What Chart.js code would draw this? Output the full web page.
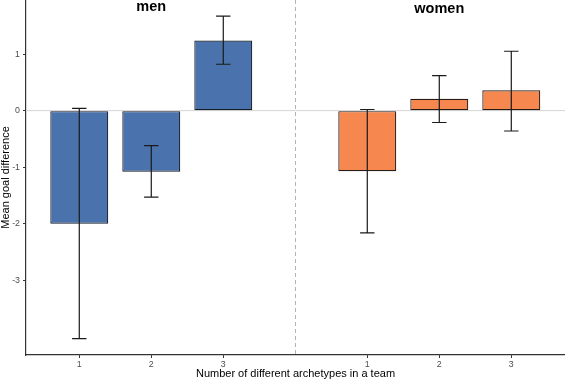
<!DOCTYPE html>
<html>
<head>
<meta charset="utf-8">
<script src="https://cdn.jsdelivr.net/npm/chart.js@4/dist/chart.umd.min.js"></script>
<style>
html,body{margin:0;padding:0;background:#fff;}
#wrap{width:565px;height:382px;position:relative;}
</style>
</head>
<body>
<div id="wrap"><canvas id="c" width="565" height="382"></canvas></div>
<script>
// ---- data ----
const panels = ['men', 'women'];
const categories = ['1', '2', '3'];
const menMeans = [-2.00, -1.08, 1.24];
const menLower = [-4.03, -1.53, 0.82];
const menUpper = [0.04, -0.62, 1.67];
const womenMeans = [-1.07, 0.21, 0.36];
const womenLower = [-2.16, -0.21, -0.36];
const womenUpper = [0.02, 0.62, 1.05];
const yTicks = [-3, -2, -1, 0, 1];
const xTitle = 'Number of different archetypes in a team';
const yTitle = 'Mean goal difference';

// x positions: men at 1..3, women at 5..7 (4 = panel divider)
const menX = categories.map((c, i) => i + 1);
const womenX = categories.map((c, i) => i + 5);
const dividerX = 4;
const tickLabelMap = {};
menX.forEach((x, i) => tickLabelMap[x] = categories[i]);
womenX.forEach((x, i) => tickLabelMap[x] = categories[i]);

const FONT = "'Liberation Sans', Arial, sans-serif";

const facetPlugin = {
  id: 'facet',
  beforeDatasetsDraw(chart) {
    const {ctx, chartArea, scales} = chart;
    const y0 = scales.y.getPixelForValue(0);
    ctx.save();
    ctx.strokeStyle = '#d4d4d4';
    ctx.lineWidth = 1;
    ctx.beginPath();
    ctx.moveTo(chartArea.left, y0);
    ctx.lineTo(chartArea.right, y0);
    ctx.stroke();
    const xd = Math.round(scales.x.getPixelForValue(dividerX)) + 0.5;
    ctx.strokeStyle = '#b3b3b3';
    ctx.setLineDash([4, 3]);
    ctx.beginPath();
    ctx.moveTo(xd, chartArea.top);
    ctx.lineTo(xd, chartArea.bottom);
    ctx.stroke();
    ctx.restore();
  },
  afterDatasetsDraw(chart) {
    const {ctx, scales} = chart;
    const groups = [[menX, menLower, menUpper], [womenX, womenLower, womenUpper]];
    ctx.save();
    ctx.strokeStyle = '#1a1a1a';
    ctx.lineWidth = 1.2;
    groups.forEach(([xs, lo, hi]) => {
      xs.forEach((x, i) => {
        const px = scales.x.getPixelForValue(x);
        const pl = scales.y.getPixelForValue(lo[i]);
        const ph = scales.y.getPixelForValue(hi[i]);
        const half = 7.2;
        ctx.beginPath();
        ctx.moveTo(px, pl); ctx.lineTo(px, ph);
        ctx.moveTo(px - half, pl); ctx.lineTo(px + half, pl);
        ctx.moveTo(px - half, ph); ctx.lineTo(px + half, ph);
        ctx.stroke();
      });
    });
    // facet titles
    ctx.fillStyle = '#000';
    ctx.font = "bold 14.5px " + FONT;
    ctx.textAlign = 'center';
    ctx.textBaseline = 'alphabetic';
    ctx.fillText(panels[0], scales.x.getPixelForValue(menX[1]), 11);
    ctx.fillText(panels[1], scales.x.getPixelForValue(womenX[1]), 13);
    ctx.restore();
  }
};

new Chart(document.getElementById('c'), {
  type: 'bar',
  data: {
    datasets: [
      {
        label: panels[0],
        data: menX.map((x, i) => ({x: x, y: menMeans[i]})),
        backgroundColor: '#4a73ad',
        borderColor: '#141c26',
        borderWidth: 1.2,
        borderSkipped: false
      },
      {
        label: panels[1],
        data: womenX.map((x, i) => ({x: x, y: womenMeans[i]})),
        backgroundColor: '#f5874f',
        borderColor: '#261a14',
        borderWidth: 1.2,
        borderSkipped: false
      }
    ]
  },
  plugins: [facetPlugin],
  options: {
    responsive: false,
    animation: false,
    grouped: false,
    categoryPercentage: 1,
    barPercentage: 0.805,
    layout: {padding: 0},
    plugins: {legend: {display: false}, tooltip: {enabled: false}},
    scales: {
      x: {
        type: 'linear',
        offset: false,
        min: 0.26,
        max: 7.746,
        afterBuildTicks: (s) => { s.ticks = menX.concat(womenX).map(v => ({value: v})); },
        afterFit: (s) => { s.height = 27; s.paddingLeft = 0; s.paddingRight = 0; },
        grid: {display: true, offset: false, drawOnChartArea: false, drawTicks: true, tickLength: 3, color: '#333'},
        border: {display: true, color: '#333', width: 1.2},
        ticks: {
          color: '#4d4d4d',
          font: {family: FONT, size: 8.8},
          padding: 1,
          maxRotation: 0,
          autoSkip: false,
          callback: (v) => tickLabelMap[v] || ''
        },
        title: {
          display: true,
          text: xTitle,
          color: '#000',
          font: {family: FONT, size: 11, lineHeight: 1.2},
          padding: {top: 0, bottom: 1}
        }
      },
      y: {
        min: -4.32,
        max: 1.956,
        afterBuildTicks: (s) => { s.ticks = yTicks.map(v => ({value: v})); },
        afterFit: (s) => { s.width = 26; s.paddingTop = 0; s.paddingBottom = 0; },
        grid: {display: true, drawOnChartArea: false, drawTicks: true, tickLength: 3, color: '#333'},
        border: {display: true, color: '#333', width: 1.2},
        ticks: {
          color: '#4d4d4d',
          font: {family: FONT, size: 8.8},
          padding: 3
        },
        title: {
          display: true,
          text: yTitle,
          color: '#000',
          font: {family: FONT, size: 11, lineHeight: 1.2},
          padding: {top: -1, bottom: 0}
        }
      }
    }
  }
});
</script>
</body>
</html>
